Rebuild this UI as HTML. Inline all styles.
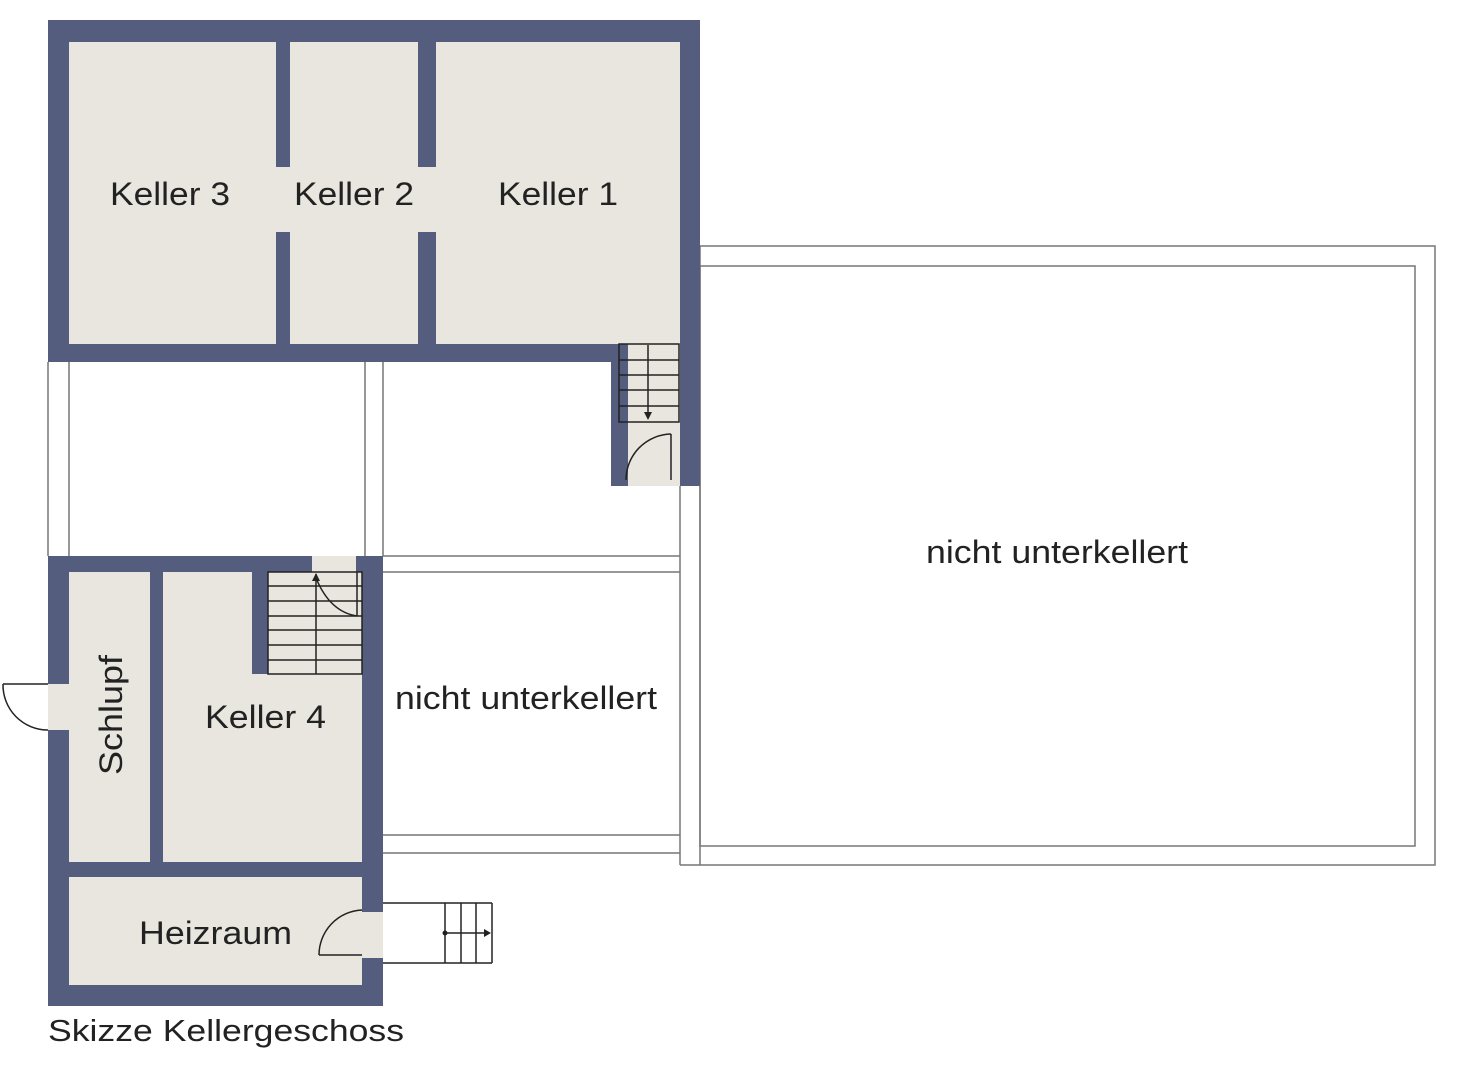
<!DOCTYPE html>
<html><head><meta charset="utf-8"><style>
html,body{margin:0;padding:0;background:#fff;width:1473px;height:1080px;overflow:hidden}
text{font-family:"Liberation Sans",sans-serif;fill:#222}
</style></head><body>
<svg width="1473" height="1080" xmlns="http://www.w3.org/2000/svg">
<g fill="none" stroke="#777" stroke-width="1.5">
<rect x="700" y="246" width="735" height="619"/>
<rect x="700" y="266" width="715" height="580"/>
<line x1="680" y1="486" x2="680" y2="865"/><line x1="680" y1="865" x2="700" y2="865"/>
<line x1="48" y1="362" x2="48" y2="556"/><line x1="69" y1="362" x2="69" y2="556"/>
<line x1="365" y1="362" x2="365" y2="556"/><line x1="383" y1="362" x2="383" y2="556"/>
<line x1="383" y1="556" x2="680" y2="556"/><line x1="383" y1="572" x2="680" y2="572"/>
<line x1="383" y1="835" x2="680" y2="835"/><line x1="383" y1="853" x2="680" y2="853"/>
</g>
<rect x="48" y="20" width="652" height="342" fill="#545d7e"/>
<rect x="611" y="344" width="89" height="142" fill="#545d7e"/>
<rect x="69" y="42" width="611" height="302" fill="#e8e6df"/>
<rect x="628" y="344" width="52" height="142" fill="#e8e6df"/>
<rect x="276" y="42" width="14" height="125" fill="#545d7e"/>
<rect x="276" y="232" width="14" height="112" fill="#545d7e"/>
<rect x="418" y="42" width="18" height="125" fill="#545d7e"/>
<rect x="418" y="232" width="18" height="112" fill="#545d7e"/>
<rect x="628" y="470" width="42" height="16" fill="#e8e6df"/>
<g stroke="#222" stroke-width="1.5" fill="none">
<rect x="619" y="344" width="60" height="78"/>
<line x1="619" y1="360" x2="679" y2="360"/><line x1="619" y1="375" x2="679" y2="375"/><line x1="619" y1="390" x2="679" y2="390"/><line x1="619" y1="406" x2="679" y2="406"/>
<line x1="648" y1="345" x2="648" y2="418"/>
<line x1="671" y1="434" x2="671" y2="480"/>
<path d="M671 434 A46 46 0 0 0 626 480"/>
</g>
<path d="M644 412 L652 412 L648 420Z" fill="#222"/>
<rect x="48" y="556" width="335" height="450" fill="#545d7e"/>
<rect x="312" y="556" width="44" height="16" fill="#e8e6df"/>
<rect x="69" y="572" width="293" height="413" fill="#e8e6df"/>
<rect x="252" y="572" width="16" height="102" fill="#545d7e"/>
<rect x="150" y="572" width="13" height="290" fill="#545d7e"/>
<rect x="69" y="862" width="293" height="15" fill="#545d7e"/>
<rect x="48" y="684" width="21" height="46" fill="#e8e6df"/>
<rect x="362" y="912" width="21" height="46" fill="#e8e6df"/>
<g stroke="#222" stroke-width="1.5" fill="none">
<rect x="268" y="572" width="94" height="102"/>
<line x1="268" y1="586" x2="362" y2="586"/><line x1="268" y1="601" x2="362" y2="601"/><line x1="268" y1="616" x2="362" y2="616"/><line x1="268" y1="630" x2="362" y2="630"/><line x1="268" y1="645" x2="362" y2="645"/><line x1="268" y1="660" x2="362" y2="660"/>
<line x1="316" y1="574" x2="316" y2="674"/>
<line x1="357" y1="572" x2="357" y2="616"/>
<path d="M316 578 Q330 612 357 616"/>
<line x1="48" y1="684" x2="3" y2="684"/><path d="M3 684 A45 45 0 0 0 48 730"/>
<line x1="383" y1="903" x2="492" y2="903"/><line x1="383" y1="963" x2="492" y2="963"/><line x1="492" y1="903" x2="492" y2="963"/>
<line x1="445" y1="903" x2="445" y2="963"/><line x1="461" y1="903" x2="461" y2="963"/><line x1="476" y1="903" x2="476" y2="963"/>
<line x1="445" y1="933" x2="488" y2="933"/>
<line x1="362" y1="955" x2="319" y2="955"/><path d="M319 955 A45 45 0 0 1 362 910"/>
</g>
<path d="M312 581 L320 581 L316 573Z" fill="#222"/>
<path d="M484 929 L484 937 L491 933Z" fill="#222"/>
<circle cx="445" cy="933" r="2.5" fill="#222"/>
<g font-size="32" lengthAdjust="spacingAndGlyphs">
<text x="110" y="205" textLength="120" lengthAdjust="spacingAndGlyphs">Keller 3</text>
<text x="294" y="205" textLength="120" lengthAdjust="spacingAndGlyphs">Keller 2</text>
<text x="498" y="205" textLength="120" lengthAdjust="spacingAndGlyphs">Keller 1</text>
<text x="205" y="728" textLength="121" lengthAdjust="spacingAndGlyphs">Keller 4</text>
<text x="139" y="944" textLength="153" lengthAdjust="spacingAndGlyphs">Heizraum</text>
<text x="395" y="709" textLength="262" lengthAdjust="spacingAndGlyphs">nicht unterkellert</text>
<text x="926" y="563" textLength="262" lengthAdjust="spacingAndGlyphs">nicht unterkellert</text>
<text transform="translate(122,775) rotate(-90)" textLength="120" lengthAdjust="spacingAndGlyphs">Schlupf</text>
<text x="48" y="1041" font-size="31" textLength="356" lengthAdjust="spacingAndGlyphs">Skizze Kellergeschoss</text>
</g>
</svg>
</body></html>
